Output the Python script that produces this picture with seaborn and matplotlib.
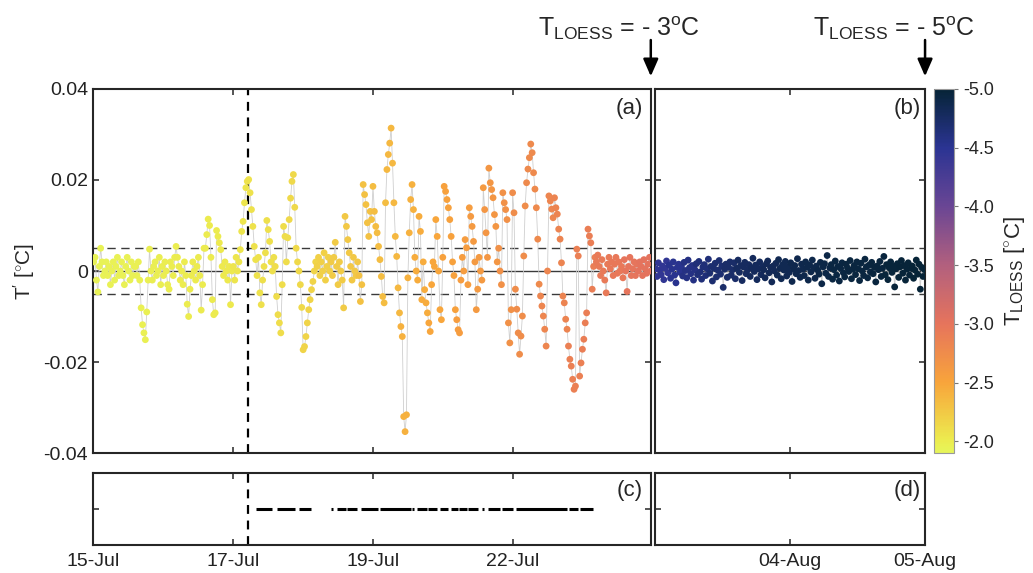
import numpy as np
import pandas as pd
import matplotlib
matplotlib.use("Agg")
import matplotlib.pyplot as plt
import seaborn as sns
from matplotlib.colors import LinearSegmentedColormap, Normalize
from matplotlib.cm import ScalarMappable
from matplotlib.patches import FancyArrowPatch

sns.set_theme(style="ticks")
plt.rcParams['font.family'] = ['Liberation Sans', 'DejaVu Sans']
plt.rcParams['mathtext.fontset'] = 'custom'
plt.rcParams['mathtext.rm'] = 'Liberation Sans'
plt.rcParams['mathtext.it'] = 'Liberation Sans:italic'
plt.rcParams['axes.unicode_minus'] = False

# ── Data ──────────────────────────────────────────────────
# T' in 1e-3 degC, panel (a): 15-Jul .. 23-Jul, one row = 0.1 tick interval
tprime_a = [
    2, 3, -2, -4.6, 1, 5, 2, -1, 0, 2,
    -1, 1, -3, 0, 2, -2, 1, 3, -1, 0,
    2, -1, -3, 1, 3, 0, -2, 2, -1, 1,
    1, -1, 2, -2, -8.1, -11.8, -13.6, -15.1, -9, -2,
    4.8, 0, -2, 1, 2, -1, 0, 3, -3, 1,
    -1, 2, 0, -3, -4, 2, 1, -1, 3, 5.4,
    3, 1, -2, 0, -3, 2, -1, -7.3, -10, -4,
    -1, 2, 0, -2, 1, 3, -1, -8.6, -3, 5,
    5, 8, 11.4, 10, 3, -6.3, -9.6, -9.2, 8.9, 7.6,
    6.2, 4.7, 1, -1, 2, 0, -2, 1, -7.4, 0,
    1, -2, 3, 0, 2, 4.7, 8.7, 10.9, 15, 18.3,
    19.7, 20.1, 17.2, 13.5, 9.8, 5.4, 2.5, -1, 3, -4.8,
    -7.4, -2, 1, 4, 11.1, 9.1, 6.5, 2, 0, 3,
    1, -5.6, -9.6, -11.4, -13.6, -3, 9.8, 7.6, 2, 7.3,
    11.3, 16.0, 19.7, 21.2, 14, 5, 2, 0, -3, -8,
    -17.3, -16.6, -14.4, -11.4, -8.5, -6.3, -4.1, -2.3, 0, 2,
    1, 3, -1, 2, 0, 4, -2, 1, 3, 0,
    2, -1, 3, 6.3, 1, -3, 2, 0, -2, -8.1,
    12.0, 9.8, 6.9, 4.0, 1, -2, 3, 0, -1, 2,
    -1, -6.7, -3, 19.0, 16.8, 14.6, 10.6, 7.6, 13.1, 11.3,
    18.6, 13.1, 9.8, 8.4, 5.4, 2.5, -1.2, -5.6, -7.0, 15.0,
    22.3, 25.6, 28.1, 31.4, 23.7, 15.0, 7.6, 3.2, -3.7, -9.2,
    -12.2, -14.4, -32.0, -35.3, -31.6, -1.5, 8.4, 15.7, 19.0, 13.5,
    3, 0, -2, 12.0, 8.7, -6.3, 2, -4.1, -7.0, -9.2,
    -11.4, -13.3, -3, 2, 1, 11.3, 7.6, 0, -8.5, -10.7,
    3, 18.6, 17.5, 15.7, 13.9, 11.3, 7.6, 2, -1, -8.5,
    -10.7, -12.9, -13.6, -2, 3, 0, 6.9, 5.1, -3, 13.9,
    12.0, 9.8, 6.5, 2, -8.5, -4, 3, 0, -2, 18.3,
    13.5, 8.4, 3, 22.6, 19.4, 17.9, 16.1, 12.4, 9.8, 2,
    5, 0, -3, 17.2, 15.0, 13.5, 11.3, -11.4, -15.8, -8.5,
    17.2, 12.8, -4.0, -8.4, -13.6, -18.3, -14.3, -9.9, 3.3, 14.3,
    19.4, 22.4, 24.9, 27.9, 26.0, 21.6, 18.0, 13.9, 7.0, -2.9,
    -5.5, -7.7, -9.9, -12.8, -16.5, 0, 16.5, 15.4, 13.6, 11.7,
    16.1, 13.9, 12.5, 9.2, 7.0, 1.8, -5.5, -7.0, -10.6, -12.8,
    -16.5, -19.4, -20.9, -23.8, -26.0, -25.3, 4.8, 3.3, -23.1, -20.2,
    -17.2, -15.0, -11.4, -9.2, 9.2, 7.7, 6.2, -4.0, 1, 3,
    2, 3.5, 1, -1, 2.5, 0, -2, -4.8, 1.5, 3,
    0.5, 2, -1, 1.5, 3, -0.5, 2, 0, 1, -1.5,
    2.5, 0, -4.5, 1, 3, -1, 0.5, 2, -1, 1.5,
    0, 2, 1, -1, 2.5, 0.5, -0.5, 1.5, 3, 0,
]
# T_LOESS [degC] for each row of ten points in panel (a)
tloess_a_rows = [
    -1.94, -1.95, -1.96, -1.97, -1.98, -1.99, -2.00, -2.01, -2.02, -2.03,
    -2.05, -2.07, -2.09, -2.11, -2.14, -2.17, -2.20, -2.23, -2.26, -2.30,
    -2.33, -2.37, -2.41, -2.45, -2.49, -2.53, -2.57, -2.61, -2.65, -2.70,
    -2.74, -2.78, -2.81, -2.84, -2.87, -2.90, -2.93, -2.96, -2.99, -3.02,
]

# panel (b): 03-Aug .. 05-Aug
tprime_b = [
    0.5, -1.2, 1.8, 0.2, -0.8, 1.1, -1.9, 0.6, 2.2, -0.4,
    1.3, -1.6, 0.4, 2.0, -0.9, -2.6, 0.8, 1.5, -0.3, 0.9,
    -1.1, 1.9, 0.1, -1.5, 2.4, 0.7, -0.6, 1.2, -2.0, 0.3,
    1.6, -0.8, 2.1, -0.2, -1.8, 0.9, 1.4, -1.0, 0.5, 2.6,
    -0.5, 1.0, -2.2, 0.6, 1.7, -1.3, 0.2, 2.3, -0.7, 1.1,
    -3.6, 0.4, 1.5, -1.4, 0.8, 2.0, -0.9, 0.3, 1.8, -1.7,
    0.6, 2.4, -0.3, 1.2, -2.1, 0.9, 1.9, -0.6, 0.2, 1.4,
    -1.2, 0.7, 2.8, -0.1, 1.3, -1.9, 0.5, 2.0, -0.8, 1.0,
    0.3, -1.5, 1.6, 2.2, -0.4, 0.8, -2.4, 1.1, 0.0, 1.7,
    -0.9, 2.5, 0.6, -1.7, 1.4, 0.2, 2.1, -1.1, 0.9, -0.3,
    1.8, -2.3, 0.5, 1.2, -0.6, 2.7, 0.1, -1.4, 1.5, 0.4,
    -1.0, 2.0, 0.8, -2.0, 1.3, -0.2, 2.4, 0.6, -1.6, 1.1,
    0.2, -0.7, 1.9, -2.8, 0.9, 1.6, -0.5, 3.4, -1.2, 0.7,
    1.4, -1.8, 0.3, 2.2, -0.9, 1.0, -2.2, 0.6, 1.8, -0.4,
    -1.3, 1.5, 0.7, -0.1, 2.3, -1.7, 0.4, 1.2, -0.8, 2.0,
    0.5, -2.1, 1.7, 0.0, -1.0, 2.6, 0.9, -1.5, 1.3, -0.2,
    1.9, -0.6, 0.8, -2.4, 1.1, 0.3, 2.1, -1.2, 0.6, 3.2,
    -0.8, 1.4, -1.9, 0.7, 2.0, -0.3, 1.0, -3.5, 0.5, 1.6,
    -1.4, 0.9, 2.3, -0.5, 1.2, -2.0, 0.4, 1.8, -0.9, 0.6,
    1.1, -1.6, 0.2, 2.4, -0.7, 1.5, -4.0, 0.8, -1.2, 0.3,
]
tloess_b_rows = [
    -4.45, -4.52, -4.58, -4.64, -4.69, -4.73, -4.77, -4.80, -4.83, -4.85,
    -4.87, -4.89, -4.91, -4.93, -4.94, -4.95, -4.96, -4.97, -4.98, -4.99,
]

# panel (c): periods flagged (start, end) in tick units of the (a) axis
flag_start = [1.164, 1.314, 1.471, 1.700, 1.743, 1.814, 1.914, 2.050, 2.279, 2.314,
              2.393, 2.479, 2.557, 2.614, 2.679, 2.779, 2.821, 2.921, 3.021, 3.400, 3.479]
flag_end = [1.279, 1.443, 1.557, 1.714, 1.807, 1.886, 2.036, 2.271, 2.293, 2.386,
            2.457, 2.536, 2.607, 2.671, 2.750, 2.793, 2.907, 3.000, 3.386, 3.464, 3.571]

ticks_a = ["15-Jul", "17-Jul", "19-Jul", "22-Jul"]
ticks_b = ["04-Aug", "05-Aug"]
yticks = [-0.04, -0.02, 0, 0.02, 0.04]
ytick_labels = ["-0.04", "-0.02", "0", "0.02", "0.04"]
cbar_ticks = [-5.0, -4.5, -4.0, -3.5, -3.0, -2.5, -2.0]
event_x = 1.107
band = 0.005

# thermal-like colormap, stops given at T_LOESS values
T_MIN, T_MAX = -5.0, -1.9
cmap_stops = [(-5.0, "#062437"), (-4.5, "#2b3493"), (-4.0, "#6a4694"),
              (-3.5, "#b2607e"), (-3.0, "#e6745c"), (-2.5, "#f8a43b"),
              (-2.0, "#ecec4f"), (-1.9, "#e6f55a")]
thermal = LinearSegmentedColormap.from_list(
    "thermal", [((v - T_MIN) / (T_MAX - T_MIN), c) for v, c in cmap_stops])
norm = Normalize(vmin=T_MIN, vmax=T_MAX)

FRAME = "#262626"


def style_axes(ax):
    for sp in ax.spines.values():
        sp.set_color(FRAME)
        sp.set_linewidth(1.5)
    ax.tick_params(direction="in", top=True, right=True, length=4,
                   width=1.1, color=FRAME, labelsize=14, labelcolor="#222222")
    ax.set_xlabel("")
    ax.set_ylabel("")


def plot_series(ax, t, dev, tl):
    df = pd.DataFrame({"t": t, "dev": dev, "tl": tl})
    sns.lineplot(data=df, x="t", y="dev", sort=False, estimator=None,
                 color="#cfcfcf", lw=0.6, ax=ax, zorder=2)
    sns.scatterplot(data=df, x="t", y="dev", hue="tl", palette=thermal,
                    hue_norm=norm, s=24, linewidth=0, legend=False,
                    ax=ax, zorder=3)
    ax.axhline(0, color="#3a3a3a", lw=1.0, zorder=1)
    for yb in (band, -band):
        ax.axhline(yb, color="#3a3a3a", lw=1.0, ls=(0, (6, 4)), zorder=1)


# ── Figure ────────────────────────────────────────────────
fig = plt.figure(figsize=(10.33, 5.73), dpi=100)
ax_a = fig.add_axes([0.0900, 0.2094, 0.5402, 0.6353])
ax_b = fig.add_axes([0.6341, 0.2094, 0.2614, 0.6353])
ax_c = fig.add_axes([0.0900, 0.0489, 0.5402, 0.1257])
ax_d = fig.add_axes([0.6341, 0.0489, 0.2614, 0.1257])
cax = fig.add_axes([0.9042, 0.2094, 0.0194, 0.6353])

t_a = np.linspace(0.005, 3.985, len(tprime_a))
dev_a = np.array(tprime_a) / 1000
tl_a = np.repeat(tloess_a_rows, 10)
plot_series(ax_a, t_a, dev_a, tl_a)

t_b = np.linspace(0.005, 1.995, len(tprime_b))
dev_b = np.array(tprime_b) / 1000
tl_b = np.repeat(tloess_b_rows, 10)
plot_series(ax_b, t_b, dev_b, tl_b)

for ax in (ax_a, ax_b):
    ax.set_ylim(-0.04, 0.04)
    ax.set_yticks(yticks)
for ax in (ax_a, ax_c):
    ax.set_xlim(0, 3.986)
    ax.set_xticks(range(len(ticks_a)))
    ax.axvline(event_x, color="black", lw=1.6, ls=(0, (4, 3)), zorder=1)
for ax in (ax_b, ax_d):
    ax.set_xlim(0, 2)
    ax.set_xticks([1, 2])

ax_a.set_yticklabels(ytick_labels)

ax_c.hlines([1] * len(flag_start), flag_start, flag_end, color="black", lw=2.2)
for ax in (ax_c, ax_d):
    ax.set_ylim(0, 2)
    ax.set_yticks([1])

for ax in (ax_a, ax_b, ax_c, ax_d):
    style_axes(ax)

ax_a.tick_params(labelbottom=False)
ax_b.tick_params(labelbottom=False, labelleft=False)
ax_c.tick_params(labelleft=False)
ax_d.tick_params(labelleft=False)
ax_c.set_xticklabels(ticks_a)
ax_d.set_xticklabels(ticks_b)
for ax in (ax_c, ax_d):
    ax.tick_params(axis="x", pad=6)

ax_a.set_ylabel(r"T$^{\prime}$ [$^{\circ}$C]", fontsize=15, labelpad=5)

for ax, lab in ((ax_a, "(a)"), (ax_b, "(b)")):
    ax.text(0.985, 0.975, lab, transform=ax.transAxes, ha="right", va="top", fontsize=16)
for ax, lab in ((ax_c, "(c)"), (ax_d, "(d)")):
    ax.text(0.985, 0.76, lab, transform=ax.transAxes, ha="right", va="center", fontsize=16)

# colorbar
cb = fig.colorbar(ScalarMappable(norm=norm, cmap=thermal), cax=cax)
cax.invert_yaxis()
cb.set_ticks(cbar_ticks)
cb.set_ticklabels([f"{v:.1f}" for v in cbar_ticks])
cb.outline.set_edgecolor("#999999")
cb.outline.set_linewidth(0.8)
cax.tick_params(labelsize=13, length=3, width=0.8, color="#777777", direction="out")
cb.set_label(r"T$_{\mathrm{LOESS}}$ [$^{\circ}$C]", fontsize=16, labelpad=6)

# threshold annotations
for x_fig, txt in ((0.630, r"T$_{\mathrm{LOESS}}$ = - 3$^{\mathrm{o}}$C"),
                   (0.8955, r"T$_{\mathrm{LOESS}}$ = - 5$^{\mathrm{o}}$C")):
    fig.text(x_fig + 0.048, 0.937, txt, ha="right", va="baseline", fontsize=18)
    fig.add_artist(FancyArrowPatch(
        (x_fig, 0.935), (x_fig, 0.862), transform=fig.transFigure,
        arrowstyle="-|>,head_length=0.8,head_width=0.35", color="black", lw=1.8,
        mutation_scale=13))

fig.savefig("out.png", dpi=100)
